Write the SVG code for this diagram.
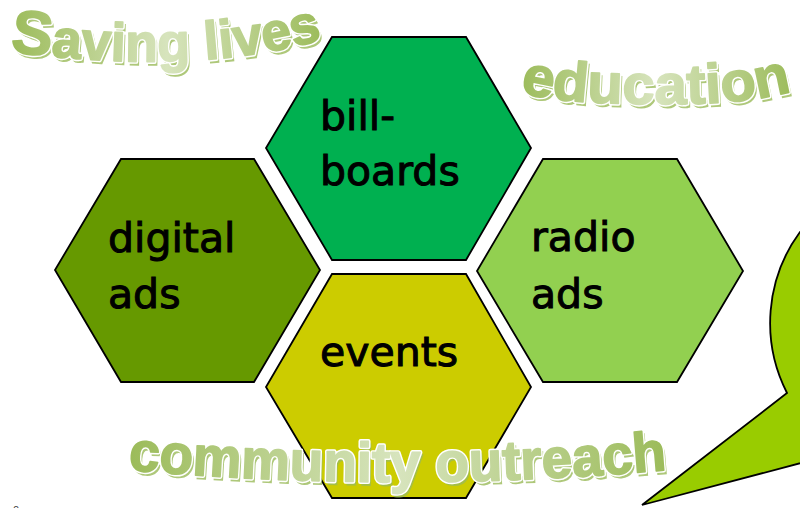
<svg xmlns="http://www.w3.org/2000/svg" width="800" height="508" viewBox="0 0 800 508">
<style>
.hex{stroke:#000;stroke-width:1.8;stroke-linejoin:miter}
.lbl{font-family:"DejaVu Sans",sans-serif;font-size:41px;fill:#000;stroke:#000;stroke-width:1}
.wa{font-family:"Liberation Sans",Arial,sans-serif;font-weight:bold}
.wa-sh{fill:#9BBB59;stroke:#9BBB59;stroke-width:2;opacity:0.8}
.wa-out{fill:#fff;stroke:#fff;stroke-width:4.5;stroke-linejoin:round}
.wa-main{stroke:url(#g1);stroke-width:1.6;stroke-linejoin:round}
</style>
<defs>
<linearGradient id="g1" x1="0" y1="0" x2="1" y2="0">
<stop offset="0" stop-color="#9BBB59"/>
<stop offset="0.5" stop-color="#D7E4BD"/>
<stop offset="1" stop-color="#9BBB59"/>
</linearGradient>
<path id="p-sav" d="M 10 52 C 110 64, 220 70, 328 38"/>
<path id="p-edu" d="M 520 92 C 560 104, 620 104, 680 104 C 730 104, 770 98, 796 90"/>
<path id="p-com" d="M 128 470 Q 398 494 668 470"/>
</defs>
<rect width="800" height="508" fill="#fff"/>

<g id="callout">
<path d="M 800 232 A 150 152 0 0 0 787 393 L 642 505 L 820 458 L 820 230 Z" fill="#99CC00" stroke="#000" stroke-width="1.8"/>
</g>

<g id="node-billboards">
<polygon class="hex" points="332,37 466,37 531,148 466,260 332,260 266,148" fill="#00B050"/>
<text class="lbl" x="320" y="130">bill-</text>
<text class="lbl" x="320" y="185">boards</text>
</g>
<g id="node-digital-ads">
<polygon class="hex" points="121,159 254,159 320,270 254,382 121,382 55,270" fill="#669900"/>
<text class="lbl" x="108" y="252">digital</text>
<text class="lbl" x="108" y="308">ads</text>
</g>
<g id="node-radio-ads">
<polygon class="hex" points="543,159 677,159 743,271 677,382 543,382 477,271" fill="#92D050"/>
<text class="lbl" x="531" y="251">radio</text>
<text class="lbl" x="531" y="308">ads</text>
</g>
<g id="node-events">
<polygon class="hex" points="332,274 466,274 531,387 466,498 332,498 266,387" fill="#CCCC00"/>
<text class="lbl" x="320" y="366">events</text>
</g>

<g id="wordart-saving-lives" class="wa" font-size="54">
<text class="wa-sh" transform="translate(2,3)"><textPath href="#p-sav" textLength="315" lengthAdjust="spacingAndGlyphs"><tspan font-size="62">S</tspan>aving lives</textPath></text>
<text class="wa-out"><textPath href="#p-sav" textLength="315" lengthAdjust="spacingAndGlyphs"><tspan font-size="62">S</tspan>aving lives</textPath></text>
<text class="wa-main" fill="url(#g1)"><textPath href="#p-sav" textLength="315" lengthAdjust="spacingAndGlyphs"><tspan font-size="62">S</tspan>aving lives</textPath></text>
</g>
<g id="wordart-education" class="wa" font-size="56">
<text class="wa-sh" transform="translate(2,3)"><textPath href="#p-edu" textLength="274" lengthAdjust="spacingAndGlyphs">education</textPath></text>
<text class="wa-out"><textPath href="#p-edu" textLength="274" lengthAdjust="spacingAndGlyphs">education</textPath></text>
<text class="wa-main" fill="url(#g1)"><textPath href="#p-edu" textLength="274" lengthAdjust="spacingAndGlyphs">education</textPath></text>
</g>
<g id="wordart-community-outreach" class="wa" font-size="56">
<text class="wa-sh" transform="translate(2,3)"><textPath href="#p-com" textLength="540" lengthAdjust="spacingAndGlyphs">community outreach</textPath></text>
<text class="wa-out"><textPath href="#p-com" textLength="540" lengthAdjust="spacingAndGlyphs">community outreach</textPath></text>
<text class="wa-main" fill="url(#g1)"><textPath href="#p-com" textLength="540" lengthAdjust="spacingAndGlyphs">community outreach</textPath></text>
</g>

<text x="13" y="514" font-family="Liberation Sans,sans-serif" font-size="11" fill="#404040">0</text>
</svg>
